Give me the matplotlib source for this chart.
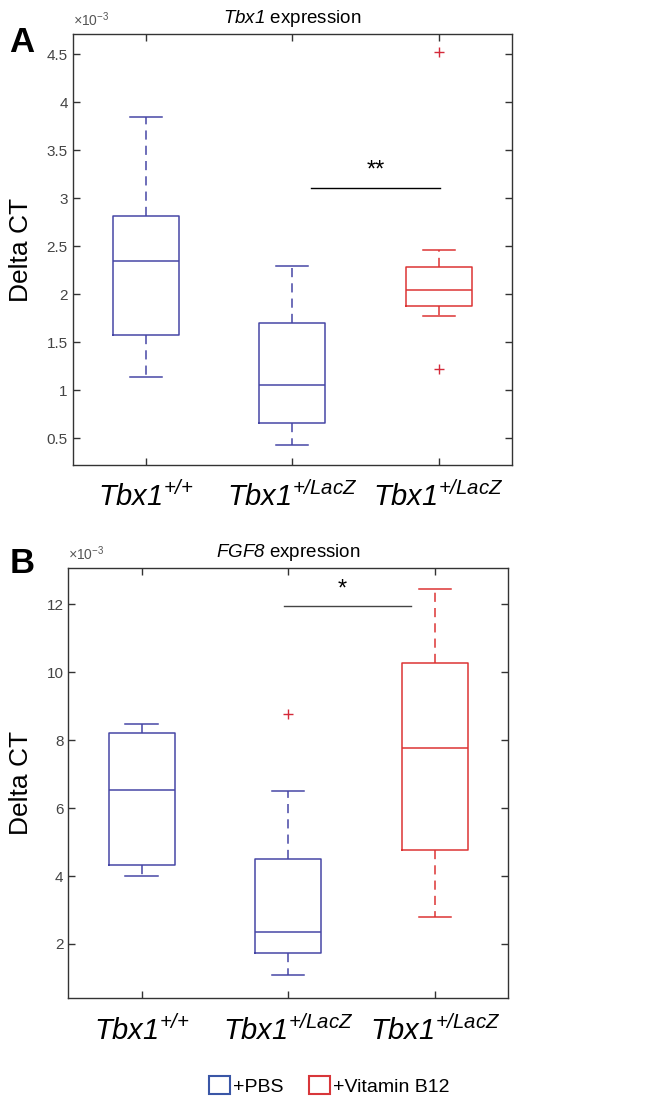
import matplotlib
matplotlib.use("Agg")
import matplotlib.pyplot as plt
from matplotlib.patches import Patch
from matplotlib.ticker import FormatStrFormatter

plt.rcParams['font.family'] = ['Liberation Sans', 'DejaVu Sans']
plt.rcParams['mathtext.fontset'] = 'custom'
plt.rcParams['mathtext.it'] = 'Liberation Sans:italic'
plt.rcParams['mathtext.rm'] = 'Liberation Sans:italic'

# ---------------- data (values in units of 1e-3) ----------------
groups = [r'$Tbx1^{{+}/{+}}$', r'$Tbx1^{{+}/LacZ}$', r'$Tbx1^{{+}/LacZ}$']
treatment = ['PBS', 'PBS', 'B12']

# Panel A: Tbx1 expression
tbx1_whislo = [1.135, 0.424, 1.77]
tbx1_q1 = [1.57, 0.66, 1.875]
tbx1_med = [2.345, 1.052, 2.045]
tbx1_q3 = [2.816, 1.695, 2.285]
tbx1_whishi = [3.845, 2.29, 2.455]
tbx1_fliers = [[], [], [1.22, 4.52]]

# Panel B: FGF8 expression
fgf8_whislo = [3.99, 1.08, 2.79]
fgf8_q1 = [4.32, 1.74, 4.78]
fgf8_med = [6.54, 2.34, 7.77]
fgf8_q3 = [8.2, 4.51, 10.28]
fgf8_whishi = [8.49, 6.49, 12.45]
fgf8_fliers = [[], [8.78], []]

blue = '#4646a6'
red = '#dc3434'
colors = {'PBS': blue, 'B12': red}
flier_color = '#d42a3a'
legend_blue = '#3a56a6'
legend_red = '#d8363a'

fig = plt.figure(figsize=(6.46, 11.10), dpi=100)


def draw_panel(ax, whislo, q1, med, q3, whishi, fliers, ylim, yticks):
    for i in range(3):
        c = colors[treatment[i]]
        st = [dict(whislo=whislo[i], q1=q1[i], med=med[i], q3=q3[i],
                   whishi=whishi[i], fliers=fliers[i])]
        ax.bxp(st, positions=[i + 1], widths=0.45, showfliers=True,
               boxprops=dict(color=c, linewidth=1.1),
               medianprops=dict(color=c, linewidth=1.1),
               whiskerprops=dict(color=c, linewidth=1.1, linestyle=(0, (6, 4))),
               capprops=dict(color=c, linewidth=1.1),
               capwidths=0.22,
               flierprops=dict(marker='+', markeredgecolor=flier_color, markersize=7,
                               markeredgewidth=1.0, linestyle='none'))
    ax.set_xlim(0.5, 3.5)
    ax.set_ylim(*ylim)
    ax.set_yticks(yticks)
    ax.yaxis.set_major_formatter(FormatStrFormatter('%g'))
    ax.set_xticks([1, 2, 3])
    ax.set_xticklabels(groups, fontsize=21)
    ax.tick_params(axis='x', direction='in', top=True, bottom=True, length=5,
                   pad=12, colors='#333333', labelcolor='black', width=1)
    ax.tick_params(axis='y', direction='in', left=True, right=True, length=5,
                   labelsize=11, colors='#333333', labelcolor='#444444', width=1)
    for s in ax.spines.values():
        s.set_color('#333333')
        s.set_linewidth(1.0)
    ax.set_ylabel('Delta CT', fontsize=19, labelpad=10)
    ax.text(0.0, 1.012, r'$\times\mathregular{10^{-3}}$', transform=ax.transAxes,
            fontsize=10, color='#555555', ha='left', va='bottom')


# Panel A
axA = fig.add_axes([0.1125, 0.5811, 0.680, 0.3883])
draw_panel(axA, tbx1_whislo, tbx1_q1, tbx1_med, tbx1_q3, tbx1_whishi, tbx1_fliers,
           (0.22, 4.71), [0.5, 1, 1.5, 2, 2.5, 3, 3.5, 4, 4.5])
axA.set_title(r'$Tbx1$ expression', fontsize=13.5, pad=8)
axA.plot([2.13, 3.01], [3.107, 3.107], color='black', linewidth=1.0)
axA.text(2.57, 3.17, '**', fontsize=17, ha='center', va='bottom')
fig.text(0.034, 0.962, 'A', fontsize=25, fontweight='bold', ha='center', va='center')

# Panel B
axB = fig.add_axes([0.1057, 0.1006, 0.681, 0.3874])
draw_panel(axB, fgf8_whislo, fgf8_q1, fgf8_med, fgf8_q3, fgf8_whishi, fgf8_fliers,
           (0.40, 13.06), [2, 4, 6, 8, 10, 12])
axB.set_title(r'$FGF8$ expression', fontsize=13.5, pad=8)
axB.plot([1.97, 2.84], [11.95, 11.95], color='#444444', linewidth=1.0)
axB.text(2.37, 12.1, '*', fontsize=17, ha='center', va='bottom')
fig.text(0.034, 0.492, 'B', fontsize=25, fontweight='bold', ha='center', va='center')

handles = [Patch(facecolor='white', edgecolor=legend_blue, linewidth=1.5, label='+PBS'),
           Patch(facecolor='white', edgecolor=legend_red, linewidth=1.5, label='+Vitamin B12')]
fig.legend(handles=handles, loc='center', bbox_to_anchor=(0.51, 0.022), ncol=2,
           frameon=False, fontsize=14, handlelength=1.1, handleheight=1.1,
           handletextpad=0.15, columnspacing=1.3)

fig.savefig('out.png', dpi=100)
